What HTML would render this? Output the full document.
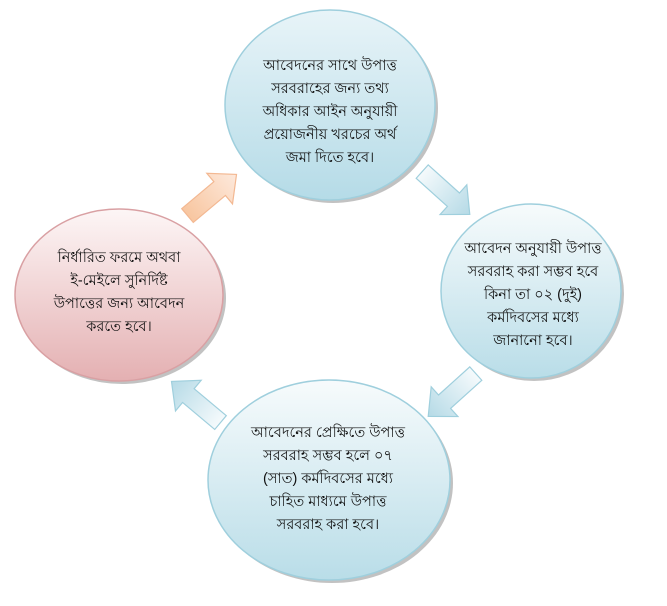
<!DOCTYPE html>
<html><head><meta charset="utf-8"><style>
html,body{margin:0;padding:0;background:#fff;width:667px;height:606px;overflow:hidden}
text{font-family:"Liberation Sans","Noto Sans CJK SC",sans-serif;font-size:14.5px;fill:#111;text-anchor:middle}
</style></head><body>
<svg width="667" height="606" xmlns="http://www.w3.org/2000/svg">
<defs>
<linearGradient id="b" x1="0" y1="0" x2="0" y2="1"><stop offset="0" stop-color="#e8f4f8"/><stop offset="1" stop-color="#b5dbe7"/></linearGradient>
<linearGradient id="bw" x1="0" y1="0" x2="0" y2="1"><stop offset="0" stop-color="#f7fbfc"/><stop offset="1" stop-color="#b9dde8"/></linearGradient>
<linearGradient id="p" x1="0" y1="0" x2="0" y2="1"><stop offset="0" stop-color="#fdf6f6"/><stop offset="1" stop-color="#e4b0b2"/></linearGradient>
<linearGradient id="ab" x1="0" y1="0" x2="1" y2="0"><stop offset="0" stop-color="#f5fafc"/><stop offset="1" stop-color="#b5dae6"/></linearGradient>
<linearGradient id="ao" x1="0" y1="0" x2="1" y2="0"><stop offset="0" stop-color="#f8c6a0"/><stop offset="1" stop-color="#fde9dc"/></linearGradient>
<polygon id="arr" points="-32,-9 10,-9 10,-20 32,0 10,20 10,9 -32,9"/>
</defs>
<g fill="#999" opacity="0.6">
<ellipse cx="333" cy="108" rx="105" ry="95"/>
<ellipse cx="534" cy="294" rx="90" ry="87"/>
<ellipse cx="332" cy="483" rx="121" ry="100"/>
<ellipse cx="122" cy="298" rx="104" ry="86"/>
</g>
<ellipse cx="330" cy="105" rx="105" ry="95" fill="url(#b)" stroke="#9fcfdd" stroke-width="1.5"/>
<ellipse cx="531" cy="291" rx="90" ry="87" fill="url(#bw)" stroke="#9fcfdd" stroke-width="1.5"/>
<ellipse cx="329" cy="480" rx="121" ry="100" fill="url(#bw)" stroke="#9fcfdd" stroke-width="1.5"/>
<ellipse cx="119" cy="295" rx="104" ry="86" fill="url(#p)" stroke="#d9a0a3" stroke-width="1.5"/>
<g stroke-width="1.2">
<use href="#arr" transform="translate(212,195) rotate(-40)" fill="url(#ao)" stroke="#f3b892"/>
<use href="#arr" transform="translate(446,193) rotate(42)" fill="url(#ab)" stroke="#9fcfdd"/>
<use href="#arr" transform="translate(452,395) rotate(138)" fill="url(#ab)" stroke="#9fcfdd"/>
<use href="#arr" transform="translate(196,402) rotate(-140)" fill="url(#ab)" stroke="#9fcfdd"/>
</g>
<text x="330" y="70">আবেদনের সাথে উপাত্ত</text>
<text x="330" y="93">সরবরাহের জন্য তথ্য</text>
<text x="330" y="116">অধিকার আইন অনুযায়ী</text>
<text x="330" y="139">প্রয়োজনীয় খরচের অর্থ</text>
<text x="330" y="162">জমা দিতে হবে।</text>
<text x="533" y="253">আবেদন অনুযায়ী উপাত্ত</text>
<text x="533" y="276">সরবরাহ করা সম্ভব হবে</text>
<text x="533" y="299">কিনা তা ০২ (দুই)</text>
<text x="533" y="322">কর্মদিবসের মধ্যে</text>
<text x="533" y="345">জানানো হবে।</text>
<text x="328" y="437">আবেদনের প্রেক্ষিতে উপাত্ত</text>
<text x="328" y="460">সরবরাহ সম্ভব হলে ০৭</text>
<text x="328" y="483">(সাত) কর্মদিবসের মধ্যে</text>
<text x="328" y="506">চাহিত মাধ্যমে উপাত্ত</text>
<text x="328" y="529">সরবরাহ করা হবে।</text>
<text x="119" y="262">নির্ধারিত ফরমে অথবা</text>
<text x="119" y="285">ই-মেইলে সুনির্দিষ্ট</text>
<text x="119" y="308">উপাত্তের জন্য আবেদন</text>
<text x="119" y="331">করতে হবে।</text>
</svg>
</body></html>
